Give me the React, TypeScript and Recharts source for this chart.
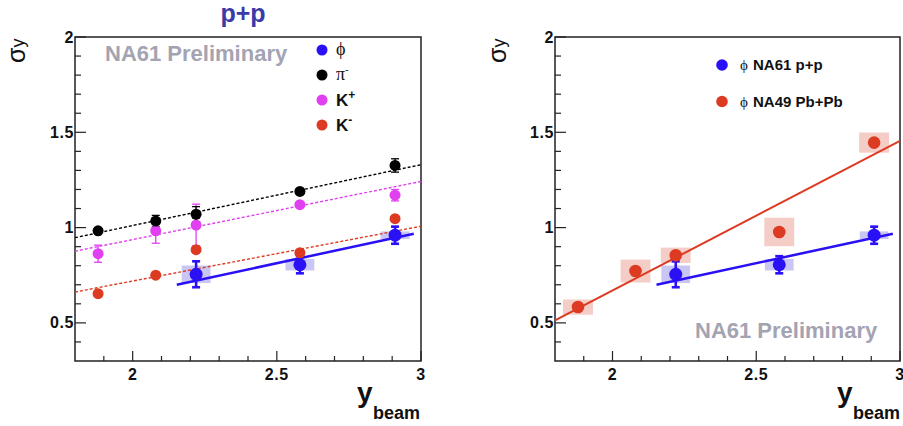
import React from 'react';
import {
  ComposedChart,
  Scatter,
  XAxis,
  YAxis,
  ErrorBar,
  ReferenceArea,
  ReferenceLine,
} from 'recharts';

// ---------------- data ----------------
const yBeam = [1.88, 2.08, 2.22, 2.58, 2.91];

const piMinusSigma = [0.983, 1.034, 1.07, 1.19, 1.326];
const piMinusErr = [0.012, 0.03, 0.04, 0.012, 0.035];

const kPlusSigma = [0.863, 0.983, 1.013, 1.12, 1.17];
const kPlusErr = [0.045, 0.065, 0.11, 0.012, 0.03];

const kMinusSigma = [0.653, 0.75, 0.884, 0.868, 1.047];
const kMinusErr = [0.01, 0.01, 0.01, 0.01, 0.01];

const phiBeam = [2.22, 2.58, 2.91];
const phiSigma = [0.755, 0.805, 0.96];
const phiStat = [0.068, 0.045, 0.045];
const phiSys = [0.046, 0.03, 0.02];
const phiSysHalfWidth = [0.05, 0.05, 0.05];

const pbBeam = [1.88, 2.08, 2.22, 2.58, 2.91];
const pbSigma = [0.583, 0.772, 0.855, 0.977, 1.446];
const pbSys = [0.04, 0.06, 0.04, 0.075, 0.053];
const pbSysHalfWidth = [0.052, 0.052, 0.052, 0.052, 0.052];

// linear fits: [x, y] end points
const piMinusFit = [[1.8, 0.947], [3.0, 1.33]];
const kPlusFit = [[1.8, 0.876], [3.0, 1.242]];
const kMinusFit = [[1.8, 0.662], [3.0, 1.007]];
const phiFit = [[2.153, 0.70], [2.975, 0.968]];
const pbFit = [[1.8, 0.513], [3.0, 1.455]];

// axes
const xDomain = [1.8, 3.0];
const yDomain = [0.3, 2.0];
const xTicks = [1.9, 2.0, 2.1, 2.2, 2.3, 2.4, 2.5, 2.6, 2.7, 2.8, 2.9, 3.0];
const xTickLabels = [2, 2.5, 3];
const yTicks = [0.4, 0.5, 0.6, 0.7, 0.8, 0.9, 1.0, 1.1, 1.2, 1.3, 1.4, 1.5, 1.6, 1.7, 1.8, 1.9, 2.0];
const yTickLabels = [0.5, 1, 1.5, 2];

// ---------------- styles ----------------
const BLUE = '#2a10f5';
const BLUE_BOX = '#c9c6f3';
const RED = '#dd3a22';
const RED_BOX = '#f4cdc7';
const MAGENTA = '#e040f0';
const BLACK = '#000000';
const GREY = '#a3a3b2';
const SANS = '"Liberation Sans", Arial, Helvetica, sans-serif';
const SERIF = '"Liberation Serif", "DejaVu Serif", serif';

const toPoints = (xs: number[], ys: number[], errs?: number[]) =>
  xs.map((x, i) => ({ x, y: ys[i], err: errs ? errs[i] : 0 }));

const dot = (color: string, r: number) => (props: any) => {
  const { cx, cy } = props;
  if (cx == null || cy == null) return <g />;
  return <circle cx={cx} cy={cy} r={r} fill={color} />;
};

const YTick = (props: any) => {
  const { x, y, payload } = props;
  const v = payload.value;
  const major = yTickLabels.includes(v);
  return (
    <g>
      <line x1={x} x2={x + (major ? 11 : 6)} y1={y} y2={y} stroke="#222" strokeWidth={1.2} />
      {major && (
        <text
          x={x - 1}
          y={y}
          dy={5.5}
          textAnchor="end"
          fontFamily={SANS}
          fontWeight="bold"
          fontSize={16}
          letterSpacing={0.6}
          fill="#111"
        >
          {String(v)}
        </text>
      )}
    </g>
  );
};

const XTick = (props: any) => {
  const { x, y, payload } = props;
  const v = payload.value;
  const major = xTickLabels.includes(v);
  return (
    <g>
      <line x1={x} x2={x} y1={y} y2={y - (major ? 10 : 5)} stroke="#222" strokeWidth={1.2} />
      {major && (
        <text
          x={x}
          y={y}
          dy={19}
          textAnchor="middle"
          fontFamily={SANS}
          fontWeight="bold"
          fontSize={16}
          letterSpacing={0.6}
          fill="#111"
        >
          {String(v)}
        </text>
      )}
    </g>
  );
};

const fitLine = (fit: number[][], color: string, width: number, dash?: string, key?: string) => (
  <ReferenceLine
    key={key}
    segment={[
      { x: fit[0][0], y: fit[0][1] },
      { x: fit[1][0], y: fit[1][1] },
    ]}
    stroke={color}
    strokeWidth={width}
    strokeDasharray={dash}
    ifOverflow="visible"
  />
);

const sysBoxes = (
  xs: number[],
  ys: number[],
  sys: number[],
  hw: number[],
  fill: string,
  prefix: string
) =>
  xs.map((x, i) => (
    <ReferenceArea
      key={prefix + i}
      x1={x - hw[i]}
      x2={x + hw[i]}
      y1={ys[i] - sys[i]}
      y2={ys[i] + sys[i]}
      fill={fill}
      fillOpacity={1}
      stroke="none"
      ifOverflow="visible"
    />
  ));

const axes = (
  <>
    <XAxis
      type="number"
      dataKey="x"
      domain={xDomain}
      ticks={xTicks}
      interval={0}
      allowDataOverflow
      axisLine={false}
      tickLine={false}
      tickSize={0}
      tickMargin={0}
      tick={<XTick />}
      height={30}
    />
    <YAxis
      type="number"
      dataKey="y"
      domain={yDomain}
      ticks={yTicks}
      interval={0}
      allowDataOverflow
      axisLine={false}
      tickLine={false}
      tickSize={0}
      tickMargin={0}
      tick={<YTick />}
      width={60}
    />
  </>
);

const frame = (
  <ReferenceArea
    x1={xDomain[0]}
    x2={xDomain[1]}
    y1={yDomain[0]}
    y2={yDomain[1]}
    fill="none"
    stroke="#222"
    strokeWidth={1.5}
    ifOverflow="visible"
  />
);

const LeftChart = () => (
  <ComposedChart width={450} height={426} margin={{ top: 37, right: 29, bottom: 35, left: 15 }}>
    {axes}
    {sysBoxes(phiBeam, phiSigma, phiSys, phiSysHalfWidth, BLUE_BOX, 'pb')}
    {fitLine(piMinusFit, BLACK, 1.4, '3 2', 'f1')}
    {fitLine(kPlusFit, MAGENTA, 1.4, '3 2', 'f2')}
    {fitLine(kMinusFit, RED, 1.4, '3 2', 'f3')}
    {fitLine(phiFit, BLUE, 2.5, undefined, 'f4')}
    <Scatter data={toPoints(yBeam, kMinusSigma, kMinusErr)} shape={dot(RED, 5.5)} isAnimationActive={false}>
      <ErrorBar dataKey="err" direction="y" stroke={RED} strokeWidth={1.2} width={3} />
    </Scatter>
    <Scatter data={toPoints(yBeam, kPlusSigma, kPlusErr)} shape={dot(MAGENTA, 5.5)} isAnimationActive={false}>
      <ErrorBar dataKey="err" direction="y" stroke={MAGENTA} strokeWidth={1.3} width={4} />
    </Scatter>
    <Scatter data={toPoints(yBeam, piMinusSigma, piMinusErr)} shape={dot(BLACK, 5.5)} isAnimationActive={false}>
      <ErrorBar dataKey="err" direction="y" stroke={BLACK} strokeWidth={1.3} width={4} />
    </Scatter>
    <Scatter data={toPoints(phiBeam, phiSigma, phiStat)} shape={dot(BLUE, 6.5)} isAnimationActive={false}>
      <ErrorBar dataKey="err" direction="y" stroke={BLUE} strokeWidth={2.6} width={4} />
    </Scatter>
    {frame}
  </ComposedChart>
);

const RightChart = () => (
  <ComposedChart width={453} height={426} margin={{ top: 37, right: 3, bottom: 35, left: 45 }}>
    {axes}
    {sysBoxes(pbBeam, pbSigma, pbSys, pbSysHalfWidth, RED_BOX, 'rb')}
    {sysBoxes(phiBeam, phiSigma, phiSys, phiSysHalfWidth, BLUE_BOX, 'bb')}
    {fitLine(pbFit, RED, 2, undefined, 'g1')}
    {fitLine(phiFit, BLUE, 2.5, undefined, 'g2')}
    <Scatter data={toPoints(pbBeam, pbSigma)} shape={dot(RED, 6.3)} isAnimationActive={false} />
    <Scatter data={toPoints(phiBeam, phiSigma, phiStat)} shape={dot(BLUE, 6.5)} isAnimationActive={false}>
      <ErrorBar dataKey="err" direction="y" stroke={BLUE} strokeWidth={2.6} width={4} />
    </Scatter>
    {frame}
  </ComposedChart>
);

const SigmaLabel = ({ x, y }: { x: number; y: number }) => (
  <text
    transform={`translate(${x},${y}) rotate(-90)`}
    fontFamily={SANS}
    fontSize={25}
    fill="#111"
  >
    σ
    <tspan fontSize={18} dy={-1}>
      y
    </tspan>
  </text>
);

const BeamLabel = ({ x }: { x: number }) => (
  <g>
    <text x={x} y={402} fontFamily={SANS} fontWeight="bold" fontSize={28} fill="#111">
      y
    </text>
    <text x={x + 16} y={419} fontFamily={SANS} fontWeight="bold" fontSize={18} fill="#111">
      beam
    </text>
  </g>
);

const Overlay = () => (
  <svg
    width={903}
    height={426}
    style={{ position: 'absolute', left: 0, top: 0, pointerEvents: 'none' }}
  >
    {/* left panel */}
    <text x={243} y={22} textAnchor="middle" fontFamily={SANS} fontWeight="bold" fontSize={25} fill="#3a3aa8">
      p+p
    </text>
    <SigmaLabel x={25} y={63} />
    <text x={105} y={61} fontFamily={SANS} fontWeight="bold" fontSize={22} fill={GREY}>
      NA61 Preliminary
    </text>
    <circle cx={322} cy={50} r={5.5} fill={BLUE} />
    <text x={336} y={55} fontFamily={SERIF} fontSize={18} fill="#111">ϕ</text>
    <circle cx={322} cy={75} r={5.5} fill={BLACK} />
    <text x={336} y={80} fontFamily={SERIF} fontSize={18} fill="#111">
      π<tspan fontSize={11} dy={-7}>-</tspan>
    </text>
    <circle cx={322} cy={100} r={5.5} fill={MAGENTA} />
    <text x={336} y={106} fontFamily={SANS} fontWeight="bold" fontSize={17} fill="#111">
      K<tspan fontSize={12} dy={-7}>+</tspan>
    </text>
    <circle cx={322} cy={125} r={5.5} fill={RED} />
    <text x={336} y={131} fontFamily={SANS} fontWeight="bold" fontSize={17} fill="#111">
      K<tspan fontSize={12} dy={-7}>-</tspan>
    </text>
    <BeamLabel x={357} />

    {/* right panel */}
    <SigmaLabel x={506} y={63} />
    <circle cx={722} cy={65} r={5.8} fill={BLUE} />
    <text x={740} y={70} fontFamily={SERIF} fontSize={15} fill="#111">ϕ</text>
    <text x={753} y={70} fontFamily={SANS} fontWeight="bold" fontSize={15} fill="#111">NA61 p+p</text>
    <circle cx={722} cy={101.5} r={5.8} fill={RED} />
    <text x={740} y={106.5} fontFamily={SERIF} fontSize={15} fill="#111">ϕ</text>
    <text x={753} y={106.5} fontFamily={SANS} fontWeight="bold" fontSize={15} fill="#111">NA49 Pb+Pb</text>
    <text x={695} y={338} fontFamily={SANS} fontWeight="bold" fontSize={22} fill={GREY}>
      NA61 Preliminary
    </text>
    <BeamLabel x={837} />
  </svg>
);

export default function App() {
  return (
    <div
      style={{
        position: 'fixed',
        left: 0,
        top: 0,
        width: 903,
        height: 426,
        background: '#fff',
        overflow: 'hidden',
      }}
    >
      <div style={{ position: 'absolute', left: 0, top: 0 }}>
        <LeftChart />
      </div>
      <div style={{ position: 'absolute', left: 450, top: 0 }}>
        <RightChart />
      </div>
      <Overlay />
    </div>
  );
}
